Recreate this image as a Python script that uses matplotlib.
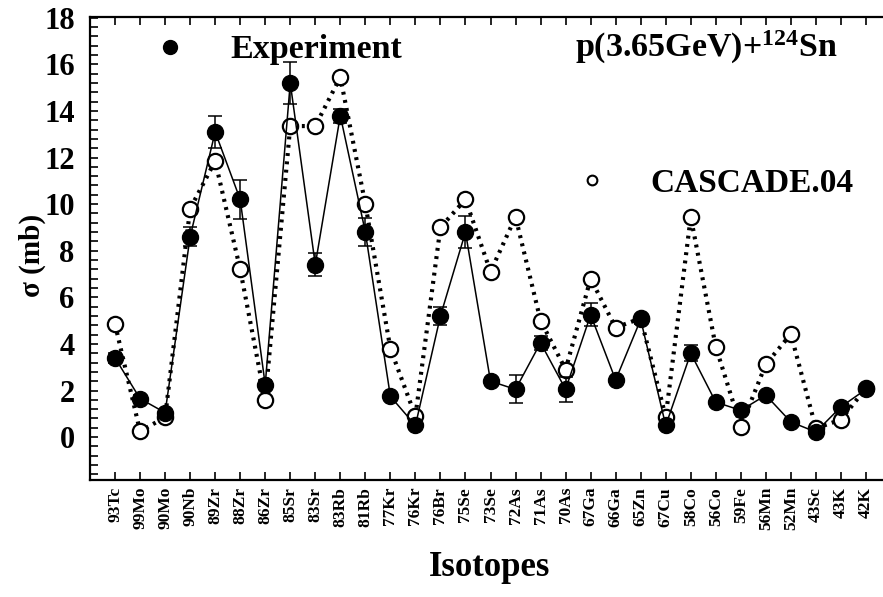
import numpy as np
import matplotlib
matplotlib.use('Agg')
import matplotlib.pyplot as plt
from matplotlib.ticker import MultipleLocator

plt.rcParams['font.family'] = ['Liberation Serif', 'DejaVu Serif']
plt.rcParams['font.weight'] = 'bold'
plt.rcParams['mathtext.fontset'] = 'custom'
plt.rcParams['mathtext.rm'] = 'Liberation Serif:bold'
plt.rcParams['mathtext.it'] = 'Liberation Serif:bold'
plt.rcParams['mathtext.bf'] = 'Liberation Serif:bold'

isotopes = ['93Tc', '99Mo', '90Mo', '90Nb', '89Zr', '88Zr', '86Zr', '85Sr', '83Sr', '83Rb',
            '81Rb', '77Kr', '76Kr', '76Br', '75Se', '73Se', '72As', '71As', '70As', '67Ga',
            '66Ga', '65Zn', '67Cu', '58Co', '56Co', '59Fe', '56Mn', '52Mn', '43Sc', '43K', '42K']

# measured cross sections (mb) and their errors
experiment = [3.4, 1.65, 1.05, 8.6, 13.1, 10.2, 2.25, 15.2, 7.4, 13.8,
              8.8, 1.75, 0.5, 5.2, 8.8, 2.4, 2.05, 4.05, 2.05, 5.25,
              2.45, 5.05, 0.5, 3.6, 1.5, 1.15, 1.8, 0.65, 0.22, 1.3, 2.05]
exp_err = [0.2, 0.15, 0.1, 0.4, 0.7, 0.85, 0.2, 0.9, 0.5, 0.3,
           0.6, 0.1, 0.1, 0.4, 0.7, 0.15, 0.6, 0.3, 0.55, 0.5,
           0.15, 0.2, 0.1, 0.35, 0.1, 0.1, 0.1, 0.1, 0.05, 0.1, 0.1]

# CASCADE.04 calculation (mb)
cascade = [4.85, 0.25, 0.85, 9.8, 11.85, 7.2, 1.6, 13.35, 13.35, 15.45,
           10.0, 3.8, 0.9, 9.0, 10.2, 7.1, 9.45, 5.0, 2.9, 6.8,
           4.7, 5.1, 0.87, 9.45, 3.87, 0.45, 3.13, 4.42, 0.38, 0.75, 2.1]

x = np.arange(len(isotopes))

fig = plt.figure(figsize=(8.83, 5.97), dpi=100)
W, H = 883, 597
# axes spans one extra slot beyond the last isotope, so the right frame runs past the edge
ax = fig.add_axes([90 / W, (H - 480) / H, 801 / W, (480 - 17) / H])

ax.plot(x, cascade, color='black', lw=3.0, linestyle=(0, (0.7, 1.3)),
        dash_capstyle='butt', marker='o', ms=11, mfc='white', mec='black', mew=1.6, zorder=2)
ax.errorbar(x, experiment, yerr=exp_err, color='black', lw=1.1, marker='o', ms=11.5,
            mfc='black', mec='black', capsize=5, capthick=1.1, elinewidth=1.1, zorder=3)

ax.set_xlim(-1, len(isotopes))
ax.set_ylim(-1.84, 18.03)
ax.set_xticks(x)
ax.set_xticklabels(isotopes, rotation=90, fontsize=12.5, fontweight='bold')
ax.yaxis.set_major_locator(MultipleLocator(2))
ax.yaxis.set_minor_locator(MultipleLocator(0.4))
ax.tick_params(axis='x', which='both', direction='in', top=True, bottom=True, length=6, width=1.2, pad=5)
ax.tick_params(axis='y', which='both', direction='in', left=True, right=False, length=6, width=1.2,
               labelsize=22, pad=11)
for lab in ax.get_yticklabels():
    lab.set_fontweight('bold')
for sp in ax.spines.values():
    sp.set_linewidth(1.6)

ax.set_ylabel('σ (mb)', fontsize=21, fontweight='bold')
ax.yaxis.set_label_coords((46 - 90) / 801, (480 - 255) / 463)
fig.text(490 / W, 1 - 568 / H, 'Isotopes', ha='center', va='center', fontsize=25, fontweight='bold')

# key symbols and annotations
ax.plot([0.1], [0.935], 'o', color='black', ms=10, transform=ax.transAxes, clip_on=False)
ax.text(0.175, 0.911, 'Experiment', transform=ax.transAxes, fontsize=24.5, fontweight='bold', va='baseline')
ax.plot([(592 - 90) / 801], [(480 - 180) / 463], 'o', mfc='white', mec='black', mew=1.5, ms=7,
        transform=ax.transAxes, clip_on=False)
ax.text((650 - 90) / 801, (480 - 192) / 463, 'CASCADE.04', transform=ax.transAxes,
        fontsize=24, fontweight='bold', va='baseline')
ax.text((575 - 90) / 801, (480 - 57) / 463, r'p(3.65GeV)+$^{124}$Sn', transform=ax.transAxes,
        fontsize=24.5, fontweight='bold', va='baseline')

fig.savefig('out.png', dpi=100)
